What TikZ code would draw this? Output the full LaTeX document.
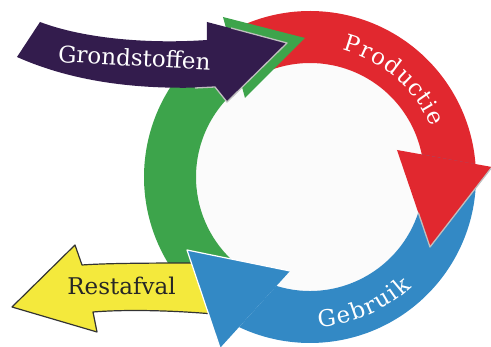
\documentclass[tikz,border=0pt]{standalone}
\usepackage{fontspec}
\usetikzlibrary{decorations.text}
\newfontfamily\cyclefont{DejaVu Serif}
\newcommand\cyclelabelfont{\cyclefont\fontsize{23}{27}\selectfont}
\definecolor{grondpurple}{RGB}{51,28,77}
\definecolor{cyclegreen}{RGB}{61,164,75}
\definecolor{cyclered}{RGB}{225,40,47}
\definecolor{cycleblue}{RGB}{51,137,197}
\definecolor{afvalyellow}{RGB}{244,233,60}
\definecolor{innergrey}{RGB}{251,251,251}

\begin{document}
\begin{tikzpicture}[x=1pt,y=1pt,line join=round,
    label font/.style={font=\cyclelabelfont},
    head edge/.style={draw=gray!50,line width=1.3pt},
    arc text/.style={decorate,decoration={text along path,text align=center,text color=white,text={|\cyclelabelfont|#1}}}]
    \useasboundingbox (-310,-170) rectangle (181,177);
    \fill[innergrey] (0,0) circle[radius=114];

    \coordinate (green tip) at (-5,139);
    \coordinate (green back out) at (-87,160);
    \coordinate (green back in) at (-65,79);
    \coordinate (red tip) at (120,-70);
    \coordinate (red back in) at (87,27);
    \coordinate (red back out) at (182,10);
    \coordinate (red edge in) at (108.3,-35.6);
    \coordinate (blue tip) at (-123,-73);
    \coordinate (blue back in) at (-20,-94);
    \coordinate (blue back out) at (-90,-171);

    \fill[cyclegreen] (232:166) arc[start angle=232,end angle=118.5,radius=166]
        -- (125.5:114) arc[start angle=125.5,end angle=232,radius=114] -- cycle;
    \fill[cyclered] (118:166) arc[start angle=118,end angle=3,radius=166]
        -- (10:114) arc[start angle=10,end angle=118,radius=114] -- cycle;
    \fill[cycleblue] (4.4:166) arc[start angle=4.4,end angle=-115.3,radius=166]
        -- (-107.2:114) arc[start angle=-107.2,end angle=11.4,radius=114] -- cycle;

    \filldraw[fill=afvalyellow,draw=black!80,line width=1.2pt]
        (-95,-86) .. controls (-150,-86) and (-200,-86) .. (-228,-88)
        -- (-235,-68) -- (-298,-130) -- (-213,-155) -- (-217,-135)
        .. controls (-180,-132) and (-130,-134) .. (-97,-137) -- cycle;

    \fill[cyclegreen] (green back out) -- (green tip) -- (green back in) -- cycle;
    \fill[cyclered] (red back in) -- (red tip) -- (red back out) -- cycle;
    \draw[head edge] (red edge in) -- (red tip) -- (red back out);
    \fill[cycleblue] (blue tip) -- (blue back in) -- (blue back out) -- cycle;
    \draw[white,line width=1.2pt] (blue back in) -- (blue tip) -- (blue back out);

    \fill[grondpurple] (-270,155) .. controls (-225,138) and (-160,133) .. (-103,137)
        -- (-103,155) -- (-23,134) -- (-83,75) -- (-95,90)
        .. controls (-160,87) and (-230,92) .. (-293,120) -- cycle;
    \draw[head edge] (-79,149) -- (-23,134) -- (-83,75) -- (-95,90) -- (-115,89);

    \node[label font,text=white,rotate=-3,anchor=base] (grondstoffen) at (-176,111) {Grondstoffen};
    \node[label font,text=black!85,anchor=base] (restafval) at (-188.5,-118) {Restafval};
    \path[arc text={P{\kern1pt}r{\kern1pt}o{\kern1pt}d{\kern1pt}u{\kern1pt}c{\kern1pt}t{\kern1pt}i{\kern1pt}e}]
        (90:131) arc[start angle=90,end angle=8,radius=131];
    \path[arc text={G{\kern1.6pt}e{\kern1.6pt}b{\kern1.6pt}r{\kern1.6pt}u{\kern1.6pt}i{\kern1.6pt}k}]
        (-110:150) arc[start angle=-110,end angle=-24,radius=150];
\end{tikzpicture}
\end{document}
